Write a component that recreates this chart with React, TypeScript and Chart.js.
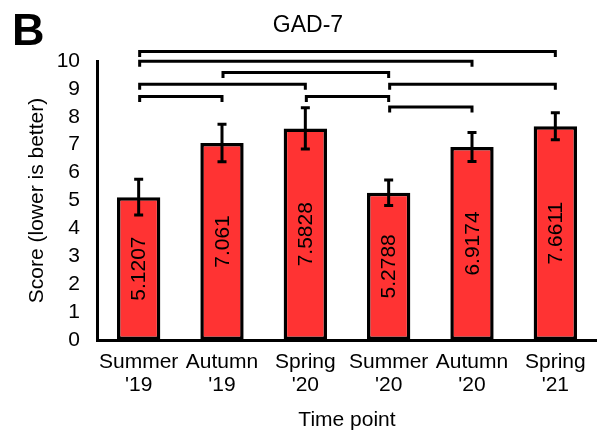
import React, { useEffect, useRef } from 'react';
import { Chart, registerables } from 'chart.js';

Chart.register(...registerables);

const categories: string[][] = [
  ['Summer', "'19"],
  ['Autumn', "'19"],
  ['Spring', "'20"],
  ['Summer', "'20"],
  ['Autumn', "'20"],
  ['Spring', "'21"],
];
const meanScores = [5.1207, 7.061, 7.5828, 5.2788, 6.9174, 7.6611];
const valueLabels = ['5.1207', '7.061', '7.5828', '5.2788', '6.9174', '7.6611'];
const errorValues = [0.64, 0.67, 0.74, 0.46, 0.52, 0.48];
const bracketFrom = [0, 0, 1, 0, 3, 0, 2, 3];
const bracketTo = [5, 4, 3, 2, 5, 1, 3, 4];
const bracketLevel = [10.34, 9.99, 9.59, 9.17, 9.17, 8.73, 8.73, 8.35];
const yMin = 0;
const yMax = 10;
const yStep = 1;
const chartTitle = 'GAD-7';
const panelLetter = 'B';
const xAxisTitle = 'Time point';
const yAxisTitle = 'Score (lower is better)';

const FAMILY = '"Liberation Sans", Arial, Helvetica, sans-serif';

const overlayPlugin = {
  id: 'overlay',
  afterDatasetsDraw(chart: any) {
    const ctx = chart.ctx as CanvasRenderingContext2D;
    const xs = chart.scales.x;
    const ys = chart.scales.y;
    ctx.save();
    ctx.strokeStyle = '#000';
    ctx.lineWidth = 3;
    ctx.lineCap = 'butt';
    ctx.lineJoin = 'miter';
    // error bars
    meanScores.forEach((v, i) => {
      const cx = xs.getPixelForValue(i);
      const top = ys.getPixelForValue(v + errorValues[i]);
      const bot = ys.getPixelForValue(v - errorValues[i]);
      ctx.beginPath();
      ctx.moveTo(cx, top);
      ctx.lineTo(cx, bot);
      ctx.moveTo(cx - 4.5, top);
      ctx.lineTo(cx + 4.5, top);
      ctx.moveTo(cx - 4.5, bot);
      ctx.lineTo(cx + 4.5, bot);
      ctx.stroke();
    });
    // value labels
    ctx.fillStyle = '#000';
    ctx.font = `21px ${FAMILY}`;
    ctx.textAlign = 'center';
    ctx.textBaseline = 'middle';
    meanScores.forEach((v, i) => {
      const cx = xs.getPixelForValue(i);
      const cy = (ys.getPixelForValue(v) + ys.getPixelForValue(0)) / 2;
      ctx.save();
      ctx.translate(cx + 1, cy);
      ctx.rotate(-Math.PI / 2);
      ctx.fillText(valueLabels[i], 0, 0);
      ctx.restore();
    });
    // significance brackets
    bracketFrom.forEach((f, k) => {
      const x1 = xs.getPixelForValue(f) + 1;
      const x2 = xs.getPixelForValue(bracketTo[k]);
      const by = ys.getPixelForValue(bracketLevel[k]);
      ctx.beginPath();
      ctx.moveTo(x1, by + 5.5);
      ctx.lineTo(x1, by);
      ctx.lineTo(x2, by);
      ctx.lineTo(x2, by + 5.5);
      ctx.stroke();
    });
    // title
    ctx.font = `23px ${FAMILY}`;
    ctx.textAlign = 'center';
    ctx.textBaseline = 'alphabetic';
    ctx.fillText(chartTitle, 308, 32);
    // panel letter
    ctx.font = `bold 45px ${FAMILY}`;
    ctx.textAlign = 'left';
    ctx.fillText(panelLetter, 12, 45);
    ctx.restore();
  },
};

export default function App() {
  const ref = useRef<HTMLCanvasElement | null>(null);
  useEffect(() => {
    if (!ref.current) return;
    const chart = new Chart(ref.current, {
      type: 'bar',
      data: {
        labels: categories,
        datasets: [
          {
            data: meanScores,
            backgroundColor: '#ff3333',
            borderColor: '#000000',
            borderWidth: 3.5,
            borderSkipped: false,
            barPercentage: 0.52,
            categoryPercentage: 1,
          },
        ],
      },
      options: {
        responsive: false,
        animation: false,
        devicePixelRatio: 1,
        layout: { padding: { top: 61, left: 0, right: 0, bottom: 0 } },
        plugins: {
          legend: { display: false },
          tooltip: { enabled: false },
          title: { display: false },
        },
        scales: {
          x: {
            grid: { display: false, drawTicks: false },
            border: { display: true, color: '#000', width: 3 },
            ticks: {
              color: '#000',
              font: { size: 21, family: FAMILY, lineHeight: 1.13 },
              padding: 10,
              maxRotation: 0,
              autoSkip: false,
            },
            title: {
              display: true,
              text: xAxisTitle,
              color: '#000',
              font: { size: 21, family: FAMILY },
              padding: { top: 0, bottom: 5 },
            },
            afterFit: (s: any) => {
              s.height = 98;
            },
          },
          y: {
            min: yMin,
            max: yMax,
            grid: { display: false, drawTicks: false },
            border: { display: true, color: '#000', width: 3 },
            ticks: {
              stepSize: yStep,
              autoSkip: false,
              color: '#000',
              font: { size: 21, family: FAMILY },
              padding: 17,
            },
            title: {
              display: true,
              text: yAxisTitle,
              color: '#000',
              font: { size: 21, family: FAMILY },
              padding: { top: 25, bottom: 0 },
            },
            afterFit: (s: any) => {
              s.width = 97;
            },
          },
        },
      },
      plugins: [overlayPlugin],
    });
    return () => chart.destroy();
  }, []);
  return (
    <div style={{ position: 'absolute', left: 0, top: 0, width: 597, height: 438, background: '#fff' }}>
      <canvas ref={ref} width={597} height={438} style={{ display: 'block', width: 597, height: 438 }} />
    </div>
  );
}
